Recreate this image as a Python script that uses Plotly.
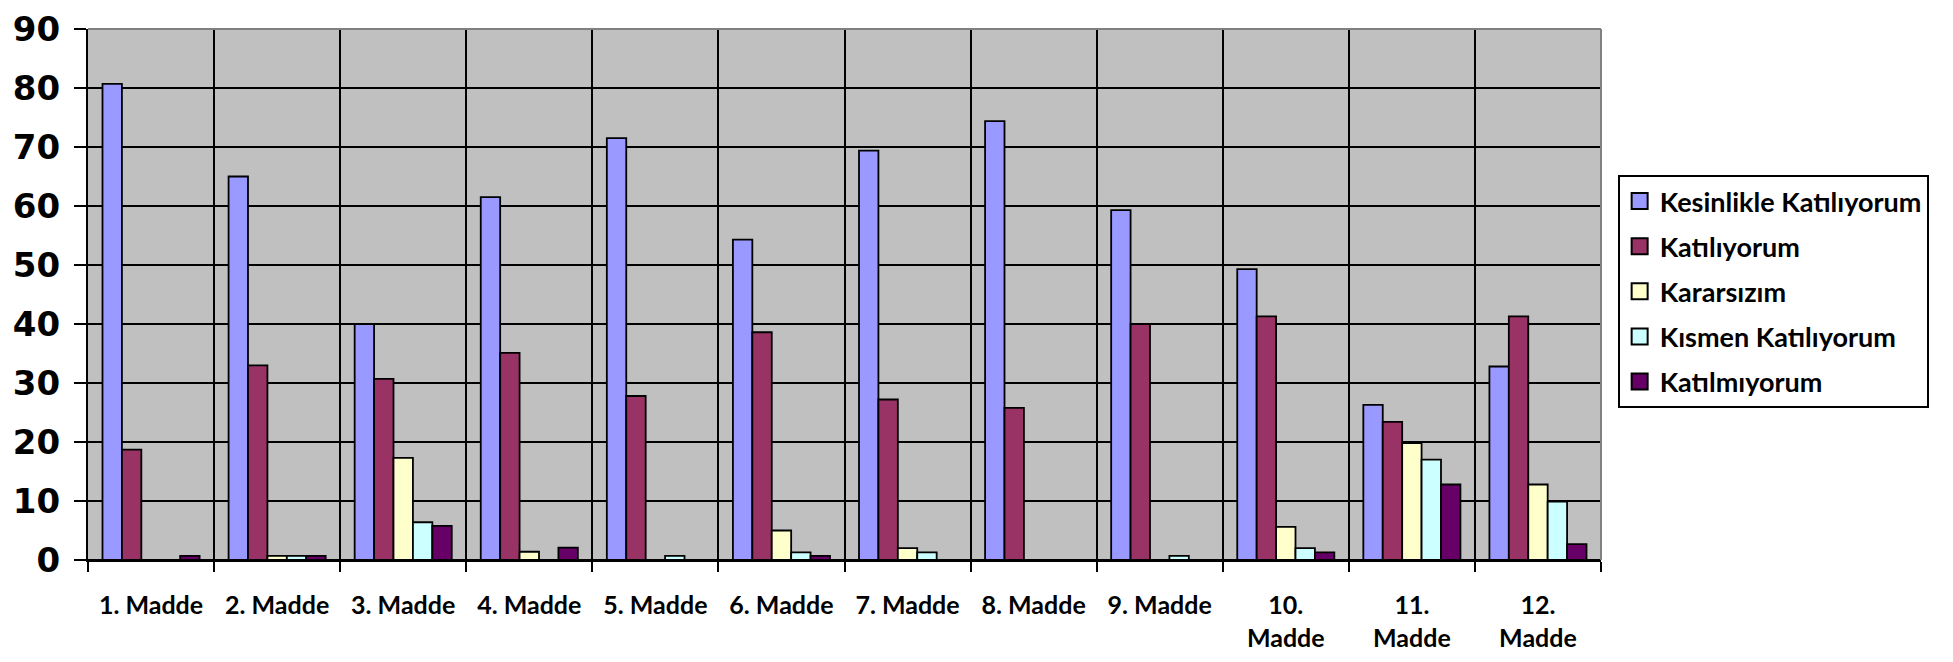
import plotly.graph_objects as go

categories = ["1. Madde", "2. Madde", "3. Madde", "4. Madde", "5. Madde", "6. Madde",
              "7. Madde", "8. Madde", "9. Madde", "10.<br>Madde", "11.<br>Madde", "12.<br>Madde"]

series_names = ["Kesinlikle Katılıyorum", "Katılıyorum", "Kararsızım",
                "Kısmen Katılıyorum", "Katılmıyorum"]

kesinlikle_katiliyorum = [80.7, 65.0, 40.0, 61.5, 71.5, 54.3, 69.4, 74.4, 59.3, 49.3, 26.3, 32.8]
katiliyorum = [18.7, 33.0, 30.7, 35.1, 27.8, 38.6, 27.2, 25.8, 40.0, 41.3, 23.4, 41.3]
kararsizim = [0, 0.7, 17.3, 1.4, 0, 5.0, 2.0, 0, 0, 5.6, 19.8, 12.8]
kismen_katiliyorum = [0, 0.7, 6.4, 0, 0.7, 1.3, 1.3, 0, 0.7, 2.0, 17.0, 9.9]
katilmiyorum = [0.7, 0.7, 5.8, 2.1, 0, 0.7, 0, 0, 0, 1.3, 12.8, 2.7]

y_ticks = [0, 10, 20, 30, 40, 50, 60, 70, 80, 90]

colors = ["#9999FF", "#993366", "#FFFFCC", "#CCFFFF", "#660066"]
values = [kesinlikle_katiliyorum, katiliyorum, kararsizim, kismen_katiliyorum, katilmiyorum]

fig = go.Figure()
for i, (name, vals, col) in enumerate(zip(series_names, values, colors)):
    fig.add_trace(go.Bar(
        x=categories, y=vals, name=name, legendgroup=f"g{i}", showlegend=False,
        marker=dict(color=col, line=dict(color="black", width=1.8)),
    ))
    # legend entry with a larger square swatch
    fig.add_trace(go.Scatter(
        x=[None], y=[None], mode="markers", name=name, legendgroup=f"g{i}",
        marker=dict(symbol="square", size=16, color=col, line=dict(color="black", width=2)),
    ))

fig.update_layout(
    width=1953, height=662,
    margin=dict(l=80, r=360, t=21, b=110, autoexpand=False),
    paper_bgcolor="white",
    plot_bgcolor="#C0C0C0",
    bargap=0.23, bargroupgap=0,
    showlegend=True,
    legend=dict(
        x=1.011, y=0.725, xanchor="left", yanchor="top",
        bgcolor="white", bordercolor="black", borderwidth=2,
        font=dict(family="Lato", size=27, color="black", weight="bold"),
        tracegroupgap=7, traceorder="grouped", itemwidth=30,
    ),
    xaxis=dict(
        type="category", tickson="boundaries", automargin=False,
        showgrid=True, gridcolor="black", gridwidth=2,
        showline=True, linecolor="black", linewidth=2,
        ticks="outside", ticklen=10, tickwidth=2, tickcolor="black",
        tickfont=dict(family="Lato", size=25, color="black", weight="bold"),
        ticklabelstandoff=22,
    ),
    yaxis=dict(
        range=[0, 90], tickvals=y_ticks, automargin=False,
        showgrid=True, gridcolor="black", gridwidth=2,
        zeroline=True, zerolinecolor="black", zerolinewidth=2,
        showline=True, linecolor="black", linewidth=2,
        ticks="outside", ticklen=12, tickwidth=2, tickcolor="black",
        tickfont=dict(family="DejaVu Sans", size=34, color="black", weight="bold"),
        ticklabelstandoff=7, ticklabeloverflow="allow",
    ),
    shapes=[
        dict(type="line", xref="paper", yref="paper", x0=0, x1=1, y0=1, y1=1,
             line=dict(color="#808080", width=2), layer="above"),
        dict(type="line", xref="paper", yref="paper", x0=1, x1=1, y0=0, y1=1,
             line=dict(color="#808080", width=2), layer="above"),
    ],
)

fig.write_html("out.html")
